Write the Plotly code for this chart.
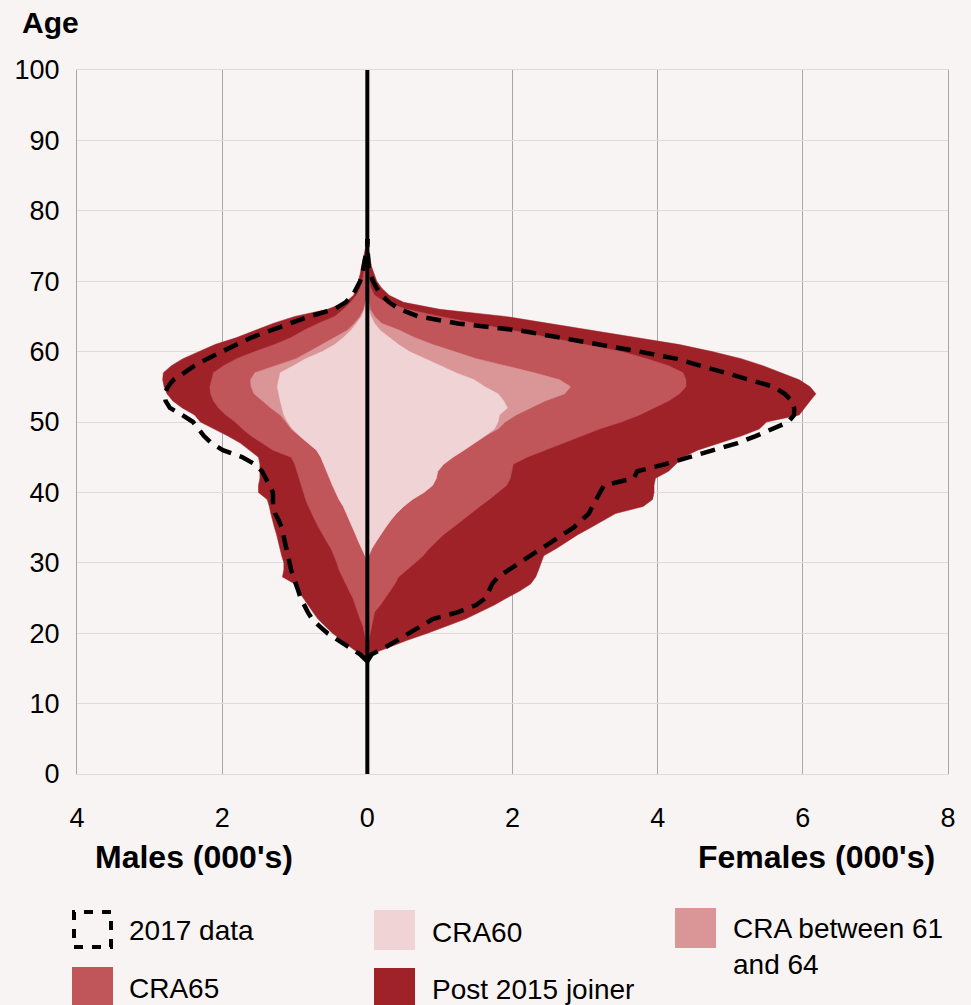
import plotly.graph_objects as go

# ---------------- data (thousands of members, cumulative by layer) ----------------
ages = list(range(16, 77))

# Females (positive side) - cumulative outer edge of each band
female_post2015_total = [
    0, 0.05, 0.3, 0.55, 0.83, 1.1, 1.35, 1.55, 1.75, 1.92,
    2.1, 2.25, 2.32, 2.36, 2.4, 2.43, 2.6, 2.75, 2.9, 3.08,
    3.25, 3.42, 3.8, 3.93, 3.95, 3.95, 3.97, 4.15, 4.25, 4.35,
    4.55, 4.85, 5.15, 5.4, 5.5, 5.95, 6.02, 6.1, 6.18, 6.1,
    5.95, 5.7, 5.45, 5.15, 4.75, 4.3, 3.7, 3.1, 2.5, 1.9,
    1.0, 0.5, 0.3, 0.2, 0.13, 0.09, 0.06, 0.04, 0.03, 0.02,
    0]
female_cra65_total = [
    0, 0, 0, 0.02, 0.04, 0.06, 0.08, 0.1, 0.18, 0.25,
    0.32, 0.38, 0.43, 0.55, 0.66, 0.77, 0.85, 0.95, 1.05, 1.18,
    1.3, 1.42, 1.55, 1.68, 1.8, 1.92, 1.97, 1.99, 2.01, 2.2,
    2.45, 2.7, 2.95, 3.2, 3.5, 3.75, 3.95, 4.15, 4.3, 4.39,
    4.39, 4.35, 4.15, 3.85, 3.5, 3.0, 2.5, 1.95, 1.45, 1.0,
    0.55, 0.25, 0.1, 0.05, 0.03, 0.02, 0.01, 0, 0, 0,
    0]
female_cra6164_total = [
    0, 0, 0, 0, 0, 0, 0, 0, 0, 0,
    0, 0, 0, 0, 0, 0.02, 0.06, 0.12, 0.18, 0.25,
    0.32, 0.4, 0.5, 0.62, 0.78, 0.9, 0.95, 0.97, 1.05, 1.18,
    1.33, 1.48, 1.62, 1.8, 1.9, 2.05, 2.25, 2.45, 2.72, 2.8,
    2.65, 2.3, 1.9, 1.5, 1.2, 0.9, 0.65, 0.45, 0.2, 0.1,
    0.04, 0.02, 0.01, 0, 0, 0, 0, 0, 0, 0,
    0]
female_cra60_total = [
    0, 0, 0, 0, 0, 0, 0, 0, 0, 0,
    0, 0, 0, 0, 0, 0.02, 0.06, 0.12, 0.18, 0.25,
    0.32, 0.4, 0.5, 0.62, 0.78, 0.9, 0.95, 0.97, 1.05, 1.18,
    1.33, 1.48, 1.62, 1.75, 1.8, 1.82, 1.93, 1.88, 1.8, 1.62,
    1.47, 1.22, 1.0, 0.78, 0.58, 0.43, 0.3, 0.18, 0.1, 0.05,
    0.02, 0.01, 0, 0, 0, 0, 0, 0, 0, 0,
    0]
female_2017 = [
    0, 0.06, 0.25, 0.42, 0.58, 0.75, 0.9, 1.25, 1.5, 1.63,
    1.68, 1.72, 1.8, 1.95, 2.1, 2.25, 2.4, 2.55, 2.7, 2.84,
    2.95, 3.05, 3.1, 3.15, 3.2, 3.26, 3.67, 3.72, 4.1, 4.45,
    4.8, 5.1, 5.35, 5.58, 5.8, 5.88, 5.88, 5.85, 5.75, 5.6,
    5.25, 4.9, 4.55, 4.25, 3.75, 3.2, 2.66, 2.1, 1.25, 0.7,
    0.45, 0.3, 0.2, 0.13, 0.08, 0.04, 0.02, 0.01, 0, 0,
    0]

# Males (negative side)
male_post2015_total = [
    0, -0.1, -0.23, -0.35, -0.48, -0.58, -0.68, -0.75, -0.82, -0.88,
    -0.95, -1.0, -1.17, -1.15, -1.15, -1.18, -1.2, -1.22, -1.25, -1.28,
    -1.31, -1.33, -1.35, -1.38, -1.5, -1.5, -1.48, -1.48, -1.48, -1.5,
    -1.62, -1.75, -1.92, -2.1, -2.3, -2.38, -2.55, -2.68, -2.76, -2.8,
    -2.82, -2.81, -2.7, -2.54, -2.32, -2.1, -1.8, -1.55, -1.3, -1.0,
    -0.55, -0.3, -0.19, -0.15, -0.12, -0.1, -0.08, -0.06, -0.04, -0.02,
    0]
male_cra65_total = [
    0, 0, 0, -0.02, -0.04, -0.06, -0.1, -0.13, -0.17, -0.2,
    -0.25, -0.3, -0.35, -0.39, -0.42, -0.46, -0.5, -0.56, -0.62, -0.67,
    -0.72, -0.77, -0.81, -0.85, -0.88, -0.9, -0.93, -0.97, -1.0, -1.05,
    -1.3, -1.45, -1.6, -1.72, -1.82, -1.95, -2.05, -2.12, -2.16, -2.17,
    -2.15, -2.12, -1.98, -1.8, -1.55, -1.28, -1.05, -0.88, -0.68, -0.45,
    -0.33, -0.23, -0.15, -0.1, -0.07, -0.05, -0.03, -0.02, 0, 0,
    0]
male_cra6164_total = [
    0, 0, 0, 0, 0, 0, 0, 0, 0, 0,
    0, 0, 0, 0, 0, -0.03, -0.08, -0.12, -0.16, -0.2,
    -0.24, -0.28, -0.33, -0.39, -0.44, -0.48, -0.52, -0.56, -0.6, -0.64,
    -0.7, -0.82, -0.93, -1.05, -1.12, -1.2, -1.33, -1.45, -1.56, -1.6,
    -1.61, -1.55, -1.25, -0.98, -0.8, -0.62, -0.45, -0.28, -0.18, -0.1,
    -0.05, -0.02, 0, 0, 0, 0, 0, 0, 0, 0,
    0]
male_cra60_total = [
    0, 0, 0, 0, 0, 0, 0, 0, 0, 0,
    0, 0, 0, 0, 0, -0.03, -0.08, -0.12, -0.16, -0.2,
    -0.24, -0.28, -0.33, -0.39, -0.44, -0.48, -0.52, -0.56, -0.6, -0.64,
    -0.7, -0.82, -0.93, -1.03, -1.1, -1.15, -1.18, -1.2, -1.22, -1.24,
    -1.22, -1.2, -1.02, -0.85, -0.62, -0.45, -0.33, -0.23, -0.15, -0.08,
    -0.04, -0.02, 0, 0, 0, 0, 0, 0, 0, 0,
    0]
male_2017 = [
    0, -0.1, -0.25, -0.4, -0.55, -0.66, -0.76, -0.82, -0.87, -0.92,
    -0.95, -0.99, -1.02, -1.05, -1.07, -1.1, -1.12, -1.14, -1.16, -1.18,
    -1.22, -1.27, -1.3, -1.3, -1.3, -1.35, -1.4, -1.45, -1.55, -1.72,
    -1.99, -2.15, -2.25, -2.32, -2.4, -2.55, -2.72, -2.78, -2.79, -2.75,
    -2.67, -2.52, -2.38, -2.2, -2.0, -1.82, -1.6, -1.33, -1.05, -0.8,
    -0.46, -0.3, -0.2, -0.15, -0.1, -0.07, -0.05, -0.03, -0.01, 0,
    0]

x_tick_vals = [-4, -2, 0, 2, 4, 6, 8]
x_tick_text = ["4", "2", "0", "2", "4", "6", "8"]
y_tick_vals = [0, 10, 20, 30, 40, 50, 60, 70, 80, 90, 100]

# ---------------- styling ----------------
BG = "#f9f4f4"
COL_POST = "#9e2228"
COL_65 = "#c0555a"
COL_6164 = "#da9597"
COL_60 = "#f0d3d5"
FONT = "Liberation Sans, Arial, sans-serif"

layers = [
    ("Post 2015 joiner", COL_POST, male_post2015_total, female_post2015_total),
    ("CRA65", COL_65, male_cra65_total, female_cra65_total),
    ("CRA between 61 and 64", COL_6164, male_cra6164_total, female_cra6164_total),
    ("CRA60", COL_60, male_cra60_total, female_cra60_total),
]

fig = go.Figure()
for name, col, mvals, fvals in layers:
    for vals in (mvals, fvals):
        fig.add_trace(go.Scatter(
            x=vals, y=ages, mode="lines", fill="tozerox",
            fillcolor=col, line=dict(color=col, width=0.5),
            name=name, showlegend=False, hoverinfo="skip"))

for vals in (male_2017, female_2017):
    fig.add_trace(go.Scatter(
        x=vals, y=ages, mode="lines",
        line=dict(color="black", width=4.5, dash="15px,9px"),
        name="2017 data", showlegend=False, hoverinfo="skip"))

# zero line drawn above the areas
fig.add_shape(type="line", xref="x", yref="paper", x0=0, x1=0, y0=0, y1=1,
              line=dict(color="black", width=4), layer="above")

W, H = 971, 1005
L, R, T, B = 77, 23, 70, 231
pw, ph = W - L - R, H - T - B


def px(xp):
    return (xp - L) / pw


def py(yp):
    return (H - B - yp) / ph


# manual legend
legend_items = [
    ("2017 data", None, 72, 910, 127, 930),
    ("CRA60", COL_60, 374, 910, 430, 932),
    ("CRA between 61<br>and 64", COL_6164, 675, 908, 731, 947),
    ("CRA65", COL_65, 72, 967, 127, 988),
    ("Post 2015 joiner", COL_POST, 374, 968, 430, 989),
]
for text, col, sx, sy, tx, ty in legend_items:
    if col is None:
        fig.add_shape(type="rect", xref="paper", yref="paper",
                      x0=px(sx + 2), x1=px(sx + 39), y0=py(sy + 37), y1=py(sy + 2),
                      line=dict(color="black", width=4, dash="9px,9px"),
                      fillcolor="rgba(0,0,0,0)")
    else:
        fig.add_shape(type="rect", xref="paper", yref="paper",
                      x0=px(sx), x1=px(sx + 41), y0=py(sy + 40), y1=py(sy),
                      line=dict(width=0), fillcolor=col)
    fig.add_annotation(text=text, xref="paper", yref="paper", x=px(tx), y=py(ty),
                       xanchor="left", yanchor="middle", showarrow=False, align="left",
                       font=dict(family=FONT, size=28, color="black"))

# axis titles
fig.add_annotation(text="<b>Age</b>", xref="paper", yref="paper", x=px(20), y=py(22),
                   xanchor="left", yanchor="middle", showarrow=False,
                   font=dict(family=FONT, size=30, color="black"))
fig.add_annotation(text="<b>Males (000's)</b>", xref="paper", yref="paper", x=px(194), y=py(857),
                   xanchor="center", yanchor="middle", showarrow=False,
                   font=dict(family=FONT, size=32, color="black"))
fig.add_annotation(text="<b>Females (000's)</b>", xref="paper", yref="paper", x=px(816), y=py(857),
                   xanchor="center", yanchor="middle", showarrow=False,
                   font=dict(family=FONT, size=32, color="black"))

fig.update_layout(
    width=W, height=H,
    margin=dict(l=L, r=R, t=T, b=B, pad=0, autoexpand=False),
    paper_bgcolor=BG, plot_bgcolor=BG,
    showlegend=False,
    font=dict(family=FONT, size=28, color="black"),
    xaxis=dict(range=[-4, 8], tickvals=x_tick_vals, ticktext=x_tick_text,
               showgrid=True, gridcolor="#a8a8a8", gridwidth=1,
               zeroline=False, showline=True, mirror=True,
               linecolor="#dcdcdc", linewidth=1, ticks="",
               ticklabelstandoff=20, tickfont=dict(size=27, family=FONT),
               automargin=False, fixedrange=True),
    yaxis=dict(range=[0, 100], tickvals=y_tick_vals,
               showgrid=True, gridcolor="#dcdcdc", gridwidth=1,
               zeroline=False, showline=True, mirror=True,
               linecolor="#a8a8a8", linewidth=1, ticks="",
               ticklabelstandoff=11, tickfont=dict(size=27, family=FONT),
               automargin=False, fixedrange=True),
)

# remove the browser's default 8px body margin so the figure fills the window
fig.write_html("out.html",
               config={"displayModeBar": False},
               post_script="document.body.style.margin='0';document.body.style.background='%s';" % BG)
